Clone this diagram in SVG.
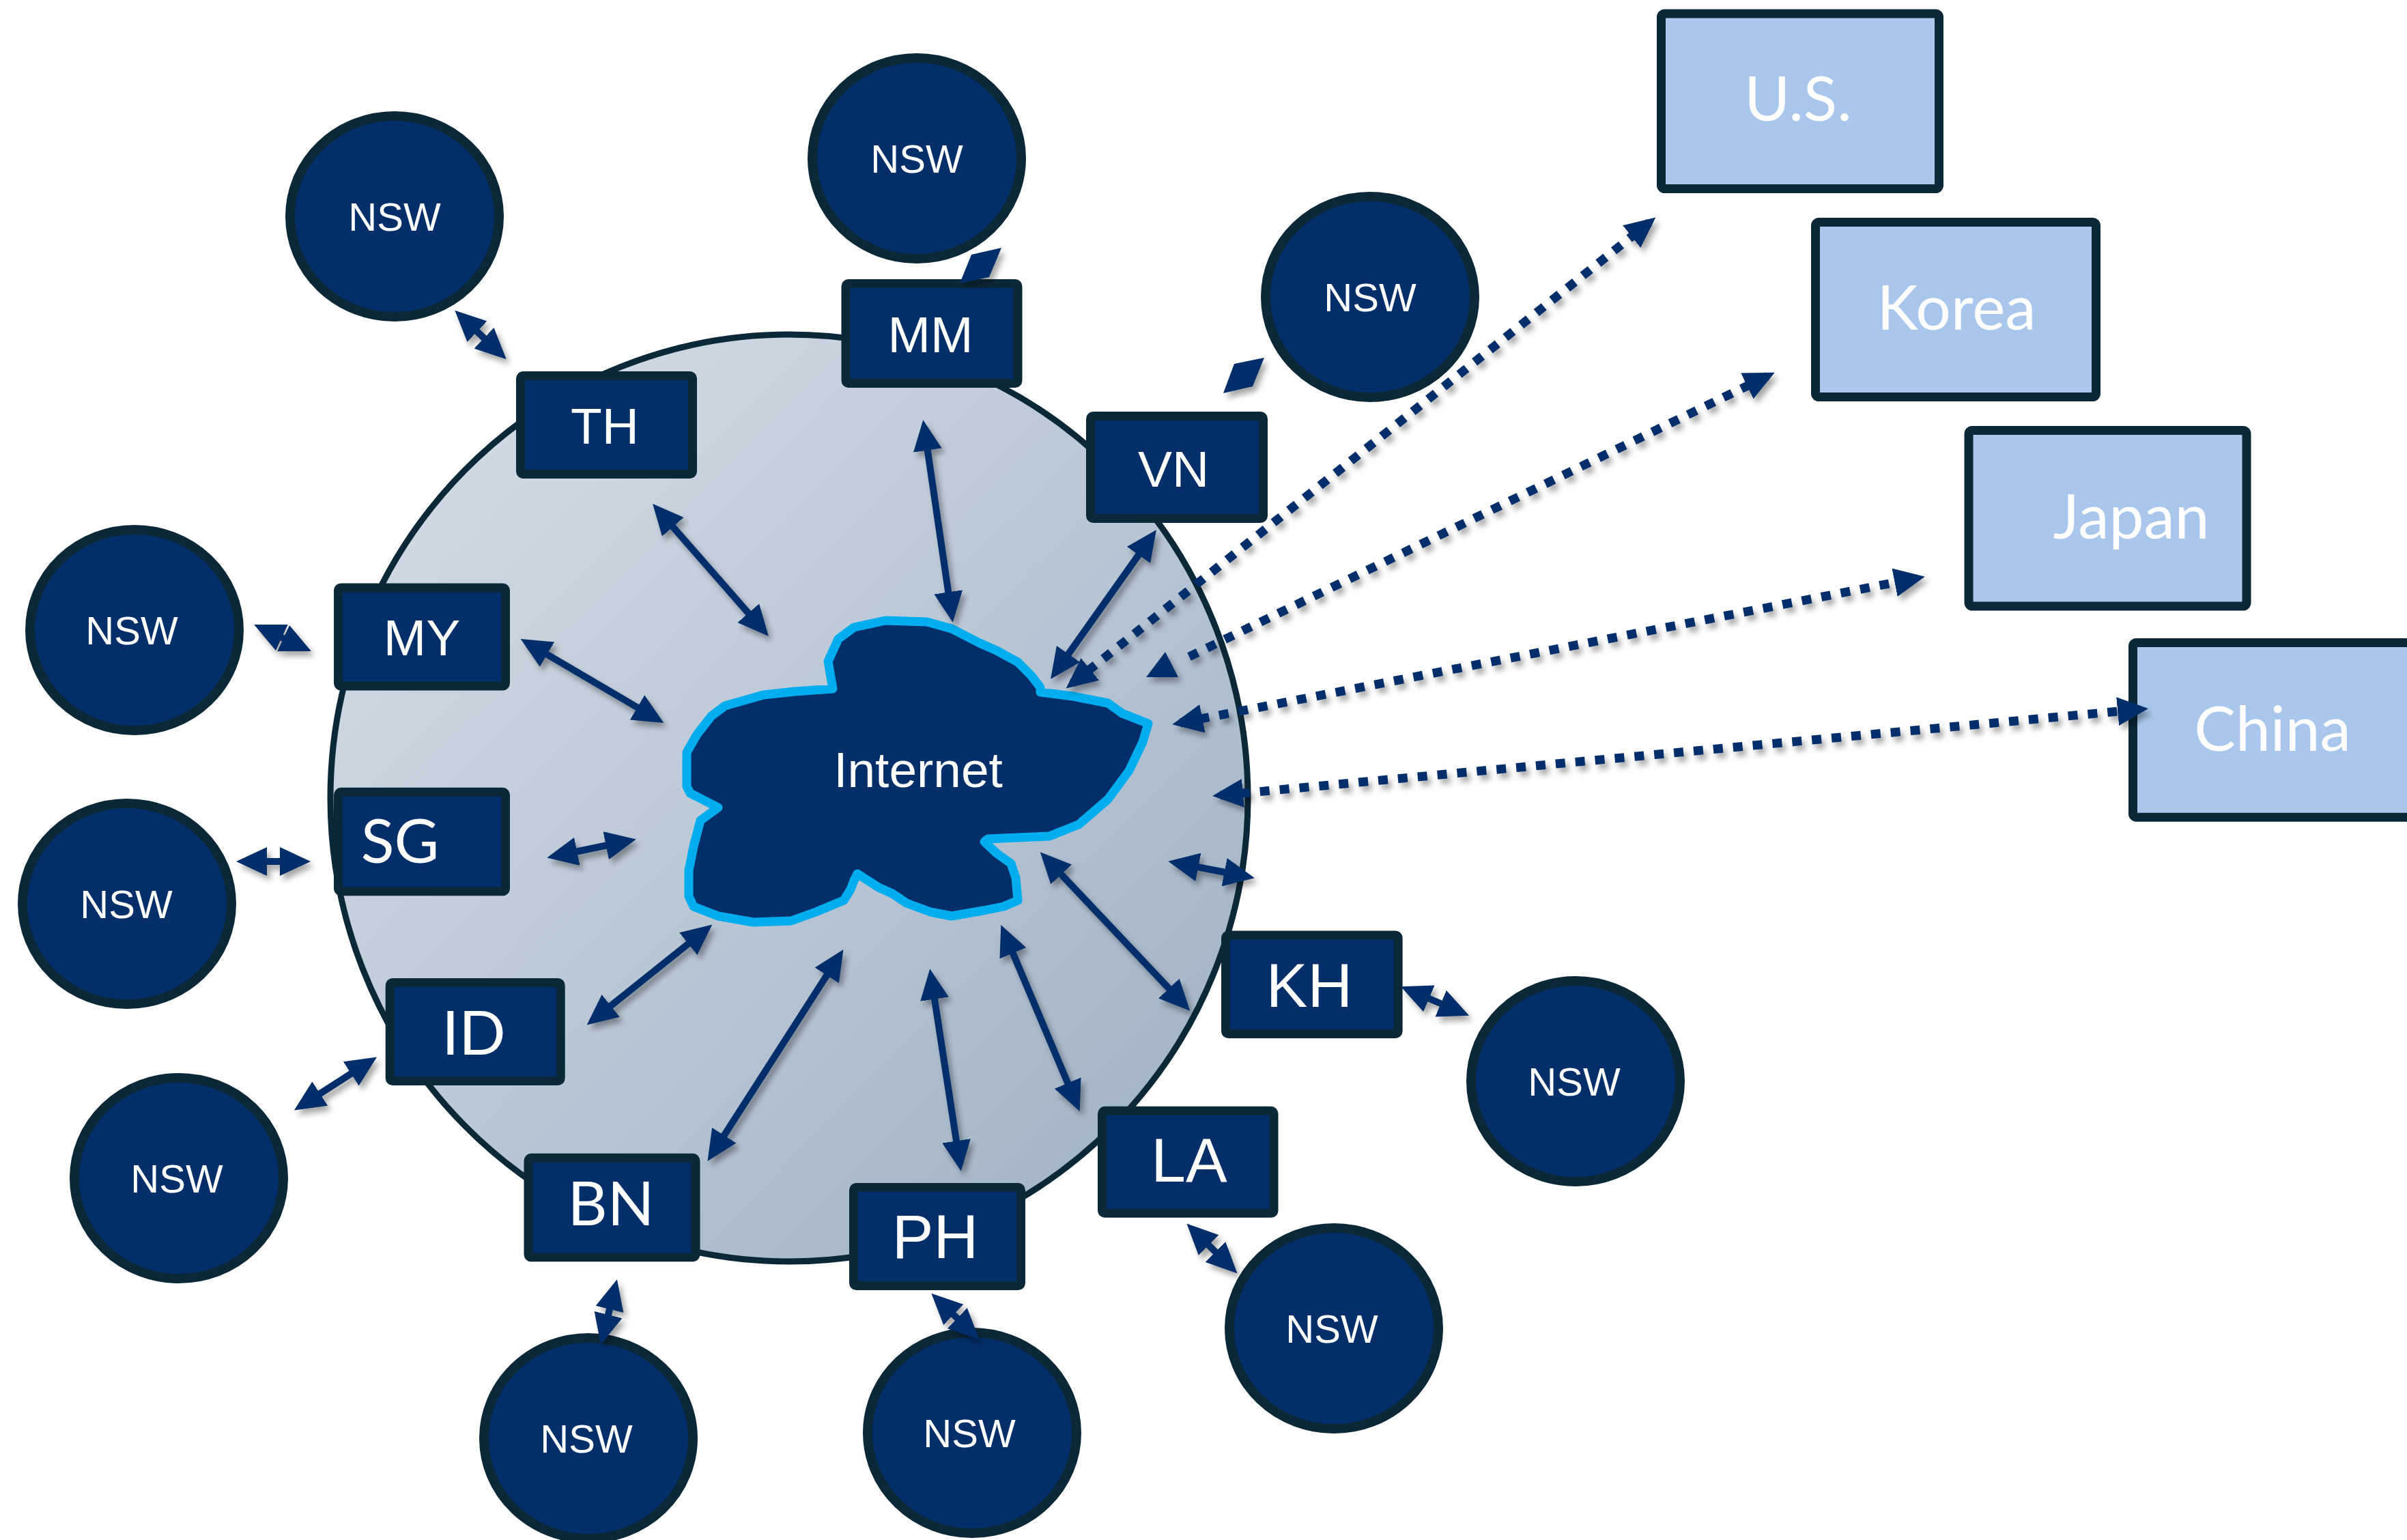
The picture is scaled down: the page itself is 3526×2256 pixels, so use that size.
<svg xmlns="http://www.w3.org/2000/svg" width="3526" height="2256" viewBox="0 0 3526 2256">
<style>
.box{fill:#022F6A;stroke:#0B2838;stroke-width:13}
.cbox{fill:#A9C7EC;stroke:#0B2838;stroke-width:13}
.nsw{fill:#022F6A;stroke:#0B2838;stroke-width:14}
.h{font-family:"Liberation Sans",Arial,sans-serif;fill:#fff;text-anchor:middle}
.g{font-family:Lato,"Open Sans",sans-serif;fill:#fff;text-anchor:middle}
.n{font-size:58px}
.s{stroke:#022F6A;stroke-width:10;fill:none;marker-start:url(#ah);marker-end:url(#ah)}
.d{stroke:#022F6A;stroke-width:13;stroke-dasharray:14 15;fill:none;marker-start:url(#ah);marker-end:url(#ah)}
.hd{fill:#022F6A}
</style>
<defs>
<linearGradient id="bg" x1="0" y1="0" x2="1" y2="1">
<stop offset="0" stop-color="#D8E0E8"/>
<stop offset="1" stop-color="#9DAFC3"/>
</linearGradient>
<marker id="ah" markerUnits="userSpaceOnUse" viewBox="0 0 45 42" refX="33" refY="21" markerWidth="45" markerHeight="42" orient="auto-start-reverse">
<path d="M0,0 L45,21 L0,42 Z" fill="#022F6A"/>
</marker>
<filter id="sh" x="-10%" y="-10%" width="120%" height="120%">
<feDropShadow dx="5" dy="7" stdDeviation="4" flood-color="#000" flood-opacity="0.35"/>
</filter>
</defs>
<rect width="3526" height="2256" fill="#fff"/>

<g id="region">
<ellipse cx="1156" cy="1169" rx="672" ry="679" fill="url(#bg)" stroke="#0B2838" stroke-width="9"/>
</g>

<g id="internet">
<path d="M1220,1009 L1213,969 L1228,936 L1251,919 L1297,909 L1358,911 L1394,921 L1435,942 L1460,953 L1491,970 L1511,990 L1524,1007 L1524,1014 L1572,1020 L1623,1030 L1644,1045 L1682,1060 L1674,1087 L1654,1129 L1623,1171 L1580,1208 L1537,1225 L1491,1227 L1447,1229 L1442,1233 L1460,1250 L1481,1265 L1488,1286 L1491,1319 L1470,1328 L1440,1334 L1394,1342 L1363,1336 L1328,1323 L1307,1309 L1287,1300 L1256,1280 L1251,1290 L1246,1303 L1236,1319 L1195,1336 L1159,1349 L1103,1351 L1052,1342 L1016,1328 L1009,1313 L1009,1275 L1016,1240 L1026,1202 L1052,1183 L1011,1162 L1006,1152 L1006,1102 L1021,1076 L1042,1049 L1062,1034 L1118,1018 L1164,1013 Z" fill="#022F6A" stroke="#00AEEF" stroke-width="13" stroke-linejoin="round"/>
<text class="h" x="1345" y="1153" font-size="73">Internet</text>
</g>

<g id="TH"><rect class="box" x="762.5" y="550.5" width="252" height="144" rx="4"/><text class="h" x="886" y="650" font-size="75">TH</text></g>
<g id="MM"><rect class="box" x="1239" y="415.5" width="252" height="146" rx="4"/><text class="h" x="1363" y="516" font-size="75">MM</text></g>
<g id="VN"><rect class="box" x="1597.5" y="609.5" width="253" height="150" rx="4"/><text class="h" x="1719" y="713" font-size="75">VN</text></g>
<g id="MY"><rect class="box" x="495.5" y="861" width="245" height="144" rx="4"/><text class="h" x="618" y="960" font-size="75">MY</text></g>
<g id="SG"><rect class="box" x="495.5" y="1160.3" width="245" height="145.5" rx="4"/><text class="g" x="586" y="1264" font-size="90">SG</text></g>
<g id="ID"><rect class="box" x="571.2" y="1439.5" width="250" height="144" rx="4"/><text class="g" x="694" y="1545" font-size="90">ID</text></g>
<g id="BN"><rect class="box" x="774" y="1696.3" width="245" height="145.5" rx="4"/><text class="g" x="895" y="1795" font-size="90">BN</text></g>
<g id="PH"><rect class="box" x="1250.5" y="1739.5" width="245" height="144" rx="4"/><text class="h" x="1370" y="1843" font-size="91">PH</text></g>
<g id="LA"><rect class="box" x="1614.5" y="1627.3" width="251.5" height="150" rx="4"/><text class="h" x="1742" y="1731" font-size="91">LA</text></g>
<g id="KH"><rect class="box" x="1795.5" y="1370" width="252.6" height="144.6" rx="4"/><text class="h" x="1918" y="1475" font-size="91">KH</text></g>

<g id="US"><rect class="cbox" x="2433.5" y="20" width="407" height="256.5" rx="5"/><text class="g" x="2634" y="177" font-size="91">U.S.</text></g>
<g id="Korea"><rect class="cbox" x="2659.5" y="325.5" width="411" height="256" rx="5"/><text class="g" x="2866" y="483" font-size="91">Korea</text></g>
<g id="Japan"><rect class="cbox" x="2884" y="630.5" width="407" height="257.5" rx="5"/><text class="g" x="3122" y="789" font-size="91">Japan</text></g>
<g id="China"><rect class="cbox" x="3124.5" y="941.5" width="420" height="255.7" rx="5"/><text class="g" x="3329" y="1100" font-size="91">China</text></g>

<g id="nsw-TH"><ellipse class="nsw" cx="578" cy="317" rx="153" ry="147"/><text class="h n" x="578" y="338">NSW</text></g>
<g id="nsw-MM"><ellipse class="nsw" cx="1343" cy="232" rx="153" ry="147"/><text class="h n" x="1343" y="253">NSW</text></g>
<g id="nsw-VN"><ellipse class="nsw" cx="2007" cy="435" rx="153" ry="147"/><text class="h n" x="2007" y="456">NSW</text></g>
<g id="nsw-MY"><ellipse class="nsw" cx="197" cy="923" rx="153" ry="147"/><text class="h n" x="193" y="944">NSW</text></g>
<g id="nsw-SG"><ellipse class="nsw" cx="186" cy="1324" rx="153" ry="147"/><text class="h n" x="185" y="1345">NSW</text></g>
<g id="nsw-ID"><ellipse class="nsw" cx="262" cy="1726" rx="153" ry="147"/><text class="h n" x="259" y="1747">NSW</text></g>
<g id="nsw-BN"><ellipse class="nsw" cx="862" cy="2107" rx="153" ry="147"/><text class="h n" x="859" y="2128">NSW</text></g>
<g id="nsw-PH"><ellipse class="nsw" cx="1424" cy="2099" rx="153" ry="147"/><text class="h n" x="1420" y="2120">NSW</text></g>
<g id="nsw-LA"><ellipse class="nsw" cx="1954" cy="1946" rx="153" ry="147"/><text class="h n" x="1951" y="1967">NSW</text></g>
<g id="nsw-KH"><ellipse class="nsw" cx="2308" cy="1584" rx="153" ry="147"/><text class="h n" x="2306" y="1605">NSW</text></g>

<g id="connectors" filter="url(#sh)">
<line class="s" x1="964" y1="747" x2="1118" y2="923"/>
<line class="s" x1="1354" y1="627" x2="1394" y2="900"/>
<line class="s" x1="1687" y1="786" x2="1546" y2="985"/>
<line class="s" x1="773" y1="942" x2="962" y2="1053"/>
<line class="s" x1="813" y1="1254" x2="920" y2="1232"/>
<line class="s" x1="869" y1="1494" x2="1034" y2="1362"/>
<line class="s" x1="1043" y1="1691" x2="1229" y2="1401"/>
<line class="s" x1="1364" y1="1431" x2="1406" y2="1704"/>
<line class="s" x1="1471" y1="1366" x2="1577" y2="1617"/>
<line class="s" x1="1532" y1="1257" x2="1735" y2="1472"/>
<line class="s" x1="1723" y1="1264" x2="1826" y2="1284"/>
<line class="s" x1="675" y1="463" x2="733" y2="518"/>
<line class="s" x1="383" y1="920" x2="445" y2="949"/>
<line class="s" x1="358" y1="1262" x2="443" y2="1262"/>
<line class="s" x1="441" y1="1620" x2="542" y2="1555"/>
<line class="s" x1="901" y1="1886" x2="883" y2="1958"/>
<line class="s" x1="1373" y1="1903" x2="1426" y2="1954"/>
<line class="s" x1="1747" y1="1801" x2="1804" y2="1857"/>
<line class="s" x1="2063" y1="1450" x2="2141" y2="1483"/>
<polygon class="hd" points="1423,373 1467,363 1449,406 1406,415"/>
<polygon class="hd" points="1808,533 1852,524 1835,566 1792,576"/>
<line class="d" x1="1571" y1="1001" x2="2416" y2="326"/>
<line class="d" x1="1742" y1="962" x2="2589" y2="551" style="marker-start:none"/>
<polygon class="hd" points="1707,955 1679,992 1726,992"/>
<line class="d" x1="1729" y1="1059" x2="2808" y2="847"/>
<line class="d" x1="1788" y1="1165" x2="3135" y2="1039"/>
</g>
</svg>
